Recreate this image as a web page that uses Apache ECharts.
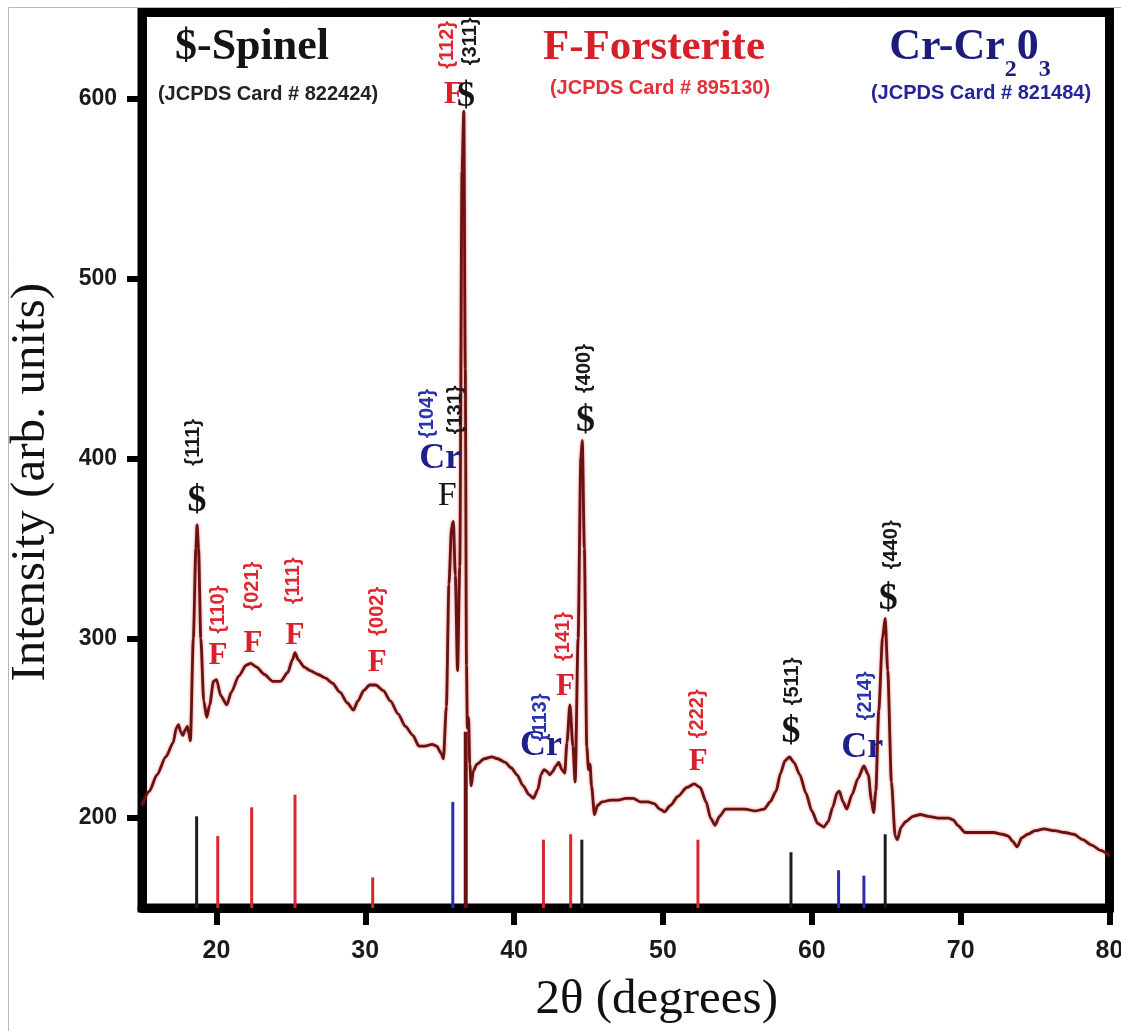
<!DOCTYPE html>
<html>
<head>
<meta charset="utf-8">
<title>XRD pattern</title>
<script src="https://cdn.jsdelivr.net/npm/echarts@6/dist/echarts.min.js"></script>
<style>
  html, body { margin: 0; padding: 0; background: #fff; }
  #chart { width: 1121px; height: 1031px; }
</style>
</head>
<body>
<div id="chart"></div>
<script>
// Measured diffraction pattern: 2θ (degrees) and intensity (arb. units)
const twoTheta = [
  15.0, 15.5, 16.0, 16.6, 17.1, 17.3, 17.45, 17.6, 17.75, 17.9, 18.05, 18.15, 18.25, 18.45, 18.62, 18.7, 18.8, 18.95,
  19.15, 19.35, 19.55, 19.8, 20.0, 20.3, 20.7, 21.0, 21.5, 22.0, 22.3, 22.7, 23.2, 23.8, 24.3, 24.8, 25.1, 25.28,
  25.5, 25.9, 26.3, 26.8, 27.3, 27.8, 28.3, 28.8, 29.2, 29.5, 29.9, 30.3, 30.7, 31.2, 31.7, 32.2, 32.7, 33.2,
  33.6, 34.0, 34.5, 34.8, 35.1, 35.25, 35.45, 35.62, 35.8, 35.92, 36.05, 36.2, 36.35, 36.5, 36.62, 36.72, 36.8,
  36.86, 36.94, 37.02, 37.12, 37.25, 37.5, 38.0, 38.5, 38.9, 39.4, 39.8, 40.2, 40.6, 41.0, 41.3, 41.6, 41.8,
  42.0, 42.2, 42.4, 42.6, 42.8, 43.0, 43.2, 43.4, 43.55, 43.75, 43.95, 44.1, 44.3, 44.48, 44.58, 44.72, 44.88,
  45.0, 45.1, 45.2, 45.4, 45.6, 45.9, 46.5, 47.0, 47.5, 48.0, 48.5, 49.0, 49.4, 49.8, 50.1, 50.5, 51.0, 51.6,
  52.1, 52.5, 52.9, 53.2, 53.5, 53.8, 54.2, 54.8, 55.5, 56.2, 56.8, 57.2, 57.6, 57.9, 58.2, 58.5, 58.8, 59.2,
  59.6, 60.0, 60.4, 60.8, 61.1, 61.4, 61.7, 61.85, 62.1, 62.35, 62.7, 63.1, 63.5, 63.8, 64.0, 64.15, 64.3, 64.5,
  64.75, 64.93, 65.1, 65.35, 65.6, 65.75, 66.0, 66.3, 66.8, 67.3, 67.8, 68.5, 69.2, 69.5, 69.8, 70.3, 70.8, 71.5,
  72.2, 72.8, 73.2, 73.5, 73.8, 74.1, 74.5, 75.0, 75.6, 76.3, 77.0, 77.6, 78.2, 78.8, 79.4, 80.0
];
const intensity = [
  207, 215, 224, 234, 242, 250, 252, 248, 246, 249, 251, 247, 243, 300, 350, 363, 350, 300,
  265, 256, 263, 276, 277, 268, 263, 270, 279, 285, 286, 284, 280, 276, 276, 281, 288, 292,
  288, 284, 282, 280, 278, 275, 270, 264, 260, 265, 271, 274, 274, 271, 265, 258, 251, 246,
  240, 240, 241, 240, 236, 233, 262, 330, 362, 365, 335, 282, 340, 560, 593, 450, 285,
  250, 256, 230, 218, 226, 230, 233, 234, 233, 231, 228, 224, 218, 213, 211, 216, 224,
  227, 226, 224, 226, 229, 231, 227, 225, 242, 263, 240, 220, 300, 400, 410, 350, 240,
  227, 230, 218, 202, 207, 209, 210, 210, 211, 211, 209, 209, 208, 205, 203.5, 207, 212, 217,
  219, 217, 209, 200, 196, 201, 205, 205, 205, 204, 205, 209, 215, 225, 232, 234, 231, 224,
  214, 204, 197, 195, 198, 206, 214, 215, 209, 205, 213, 222, 229, 224, 210, 203, 215, 260,
  300, 311, 282, 220, 190, 188, 195, 198, 201, 202, 201, 200, 200, 199, 196, 192, 192, 192,
  192, 191, 190, 187, 184, 189, 191, 193, 194, 193, 192, 191, 188, 185, 182, 179
];

// Reference reflections (stick patterns): [2θ, stick top]
const spinelSticks = [[18.67, 201], [44.55, 188], [58.6, 181], [64.93, 191]];
const spinelMainStick = [[36.75, 248]];
const forsteriteSticks = [[20.09, 190], [22.37, 206], [25.28, 213], [30.5, 167], [41.97, 188], [43.8, 191], [52.35, 188]];
const chromiaSticks = [[35.88, 209], [61.8, 171], [63.5, 168]];

// Phase markers over the peaks: phase key, 2θ, intensity anchor
const phaseMarks = [
  ['S', 18.70, 376], ['F', 20.11, 290], ['F', 22.46, 297], ['F', 25.28, 301], ['F', 30.8, 286],
  ['Cr', 35.03, 400], ['Fk', 35.5, 379], ['Ftop', 35.93, 602], ['Stop', 36.77, 601],
  ['Cr', 41.81, 240], ['F', 43.45, 273], ['S', 44.8, 421], ['F', 52.37, 231],
  ['S', 58.6, 248], ['Cr', 63.39, 239], ['S', 65.13, 322]
];
// Miller indices written beside the markers: text, phase key, 2θ, intensity anchor
const hklMarks = [
  ['{111}', 'S', 18.49, 409], ['{110}', 'F', 20.11, 316], ['{021}', 'F', 22.39, 329], ['{111}', 'F', 25.15, 332],
  ['{002}', 'F', 30.8, 315], ['{104}', 'Cr', 34.15, 425], ['{131}', 'S', 36.03, 427], ['{112}', 'F', 35.5, 630],
  ['{311}', 'S', 37.04, 632], ['{113}', 'Cr', 41.75, 256], ['{141}', 'F', 43.35, 301], ['{400}', 'S', 44.7, 450],
  ['{222}', 'F', 52.3, 258], ['{511}', 'S', 58.68, 276], ['{214}', 'Cr', 63.59, 268], ['{440}', 'S', 65.34, 352]
];

// Axis tick labels
const xTicks = [20, 30, 40, 50, 60, 70, 80];
const yTicks = [200, 300, 400, 500, 600];

const X_MIN = 15, X_MAX = 80, Y_MIN = 150, Y_MAX = 648;

const SERIF = '"Liberation Serif", "DejaVu Serif", serif';
const SANS = '"Liberation Sans", Arial, sans-serif';
const BLACK = '#151515', RED = '#dc1f2a', BLUE = '#1f1f8c';

const markStyle = {
  S:    { text: '$',  fill: BLACK, font: 'bold 38px ' + SERIF },
  Stop: { text: '$',  fill: BLACK, font: 'bold 36px ' + SERIF },
  F:    { text: 'F',  fill: RED,   font: 'bold 31px ' + SERIF },
  Ftop: { text: 'F',  fill: RED,   font: 'bold 32px ' + SERIF },
  Fk:   { text: 'F',  fill: BLACK, font: '34px ' + SERIF },
  Cr:   { text: 'Cr', fill: BLUE,  font: 'bold 36px ' + SERIF }
};
const hklColor = { S: '#1a1a1a', F: '#e0262f', Cr: '#2a33b0' };

function stickSeries(name, data, color, width) {
  return {
    type: 'custom',
    name: name,
    data: data,
    z: 2,
    silent: true,
    encode: { x: 0, y: 1 },
    renderItem: function (params, api) {
      const top = api.coord([api.value(0), api.value(1)]);
      const base = api.coord([api.value(0), Y_MIN]);
      return {
        type: 'line',
        shape: { x1: top[0], y1: base[1], x2: top[0], y2: top[1] },
        style: { stroke: color, lineWidth: width }
      };
    }
  };
}

const chart = echarts.init(document.getElementById('chart'), null, { renderer: 'canvas' });

chart.setOption({
  animation: false,
  backgroundColor: '#ffffff',
  grid: {
    left: 142, right: 11.5, top: 12.5, bottom: 123,
    show: true, borderColor: '#000', borderWidth: 9,
    outerBoundsMode: 'none'
  },
  xAxis: {
    type: 'value', min: X_MIN, max: X_MAX,
    axisLine: { show: true, onZero: false, lineStyle: { color: '#000', width: 9 } },
    axisTick: { show: true, customValues: xTicks, length: 17, lineStyle: { color: '#000', width: 6 } },
    axisLabel: {
      customValues: xTicks, margin: 31, fontSize: 25, fontWeight: 'bold',
      fontFamily: SANS, color: '#1a1a1a'
    },
    splitLine: { show: false },
    name: '2θ (degrees)', nameLocation: 'middle', nameGap: 68,
    nameTextStyle: { fontFamily: SERIF, fontSize: 49, color: '#111', padding: [0, 0, 0, 62] }
  },
  yAxis: {
    type: 'value', min: Y_MIN, max: Y_MAX,
    axisLine: { show: true, onZero: false, lineStyle: { color: '#000', width: 9 } },
    axisTick: { show: true, customValues: yTicks, length: 15, lineStyle: { color: '#000', width: 6 } },
    axisLabel: {
      customValues: yTicks, margin: 25, fontSize: 23, fontWeight: 'bold',
      fontFamily: SANS, color: '#1a1a1a'
    },
    splitLine: { show: false },
    name: 'Intensity (arb. units)', nameLocation: 'middle', nameGap: 86, nameRotate: 90,
    nameTextStyle: { fontFamily: SERIF, fontSize: 49, color: '#111', padding: [0, 44, 0, 0] }
  },
  series: [
    stickSeries('Spinel', spinelSticks, '#1c1c1c', 3),
    stickSeries('Spinel (311)', spinelMainStick, '#6a1212', 4),
    stickSeries('Forsterite', forsteriteSticks, '#d8262e', 3),
    stickSeries('Cr2O3', chromiaSticks, '#2b2bb5', 3),
    {
      type: 'line',
      name: 'XRD',
      data: twoTheta.map((t, i) => [t, intensity[i]]),
      symbol: 'none',
      showSymbol: false,
      smooth: 0.25,
      smoothMonotone: 'x',
      z: 3,
      lineStyle: { color: '#6a1212', width: 2.8, shadowColor: 'rgba(215,45,45,0.6)', shadowBlur: 3 }
    },
    {
      type: 'custom',
      name: 'phase marks',
      data: phaseMarks.map(m => [m[1], m[2]]),
      z: 5,
      silent: true,
      clip: false,
      encode: { x: 0, y: 1 },
      renderItem: function (params, api) {
        const p = api.coord([api.value(0), api.value(1)]);
        const st = markStyle[phaseMarks[params.dataIndex][0]];
        return {
          type: 'text', x: p[0], y: p[1],
          style: { text: st.text, fill: st.fill, font: st.font, align: 'center', verticalAlign: 'middle' }
        };
      }
    },
    {
      type: 'custom',
      name: 'hkl',
      data: hklMarks.map(m => [m[2], m[3]]),
      z: 5,
      silent: true,
      clip: false,
      encode: { x: 0, y: 1 },
      renderItem: function (params, api) {
        const p = api.coord([api.value(0), api.value(1)]);
        const m = hklMarks[params.dataIndex];
        return {
          type: 'text', x: p[0], y: p[1], rotation: Math.PI / 2,
          style: {
            text: m[0], fill: hklColor[m[1]], font: 'bold 20px ' + SANS,
            align: 'center', verticalAlign: 'middle'
          }
        };
      }
    }
  ],
  graphic: [
    {
      type: 'rect', silent: true, z: -10,
      shape: { x: 8.5, y: 7.5, width: 1400, height: 1400 },
      style: { fill: 'none', stroke: '#b8b8b8', lineWidth: 1 }
    },
    {
      type: 'text', x: 252, y: 48, z: 10,
      style: { text: '$-Spinel', font: 'bold 44px ' + SERIF, fill: '#141414', align: 'center', verticalAlign: 'middle' }
    },
    {
      type: 'text', x: 268, y: 94, z: 10,
      style: { text: '(JCPDS Card # 822424)', font: 'bold 20px ' + SANS, fill: '#222', align: 'center', verticalAlign: 'middle' }
    },
    {
      type: 'text', x: 654, y: 48, z: 10,
      style: { text: 'F-Forsterite', font: 'bold 43px ' + SERIF, fill: '#d71f29', align: 'center', verticalAlign: 'middle' }
    },
    {
      type: 'text', x: 660, y: 88, z: 10,
      style: { text: '(JCPDS Card # 895130)', font: 'bold 20px ' + SANS, fill: '#e0313a', align: 'center', verticalAlign: 'middle' }
    },
    {
      type: 'text', x: 970, y: 26, z: 10,
      style: {
        text: '{m|Cr-Cr}{s|2}{m|0}{s|3}',
        fill: '#1c1c7c', align: 'center', verticalAlign: 'top',
        rich: {
          m: { fontFamily: SERIF, fontWeight: 'bold', fontSize: 44, lineHeight: 44, verticalAlign: 'top', fill: '#1c1c7c' },
          s: { fontFamily: SERIF, fontWeight: 'bold', fontSize: 24, lineHeight: 24, verticalAlign: 'top', padding: [32, 0, 0, 0], fill: '#1c1c7c' }
        }
      }
    },
    {
      type: 'text', x: 981, y: 93, z: 10,
      style: { text: '(JCPDS Card # 821484)', font: 'bold 20px ' + SANS, fill: '#23239a', align: 'center', verticalAlign: 'middle' }
    }
  ]
});
</script>
</body>
</html>
